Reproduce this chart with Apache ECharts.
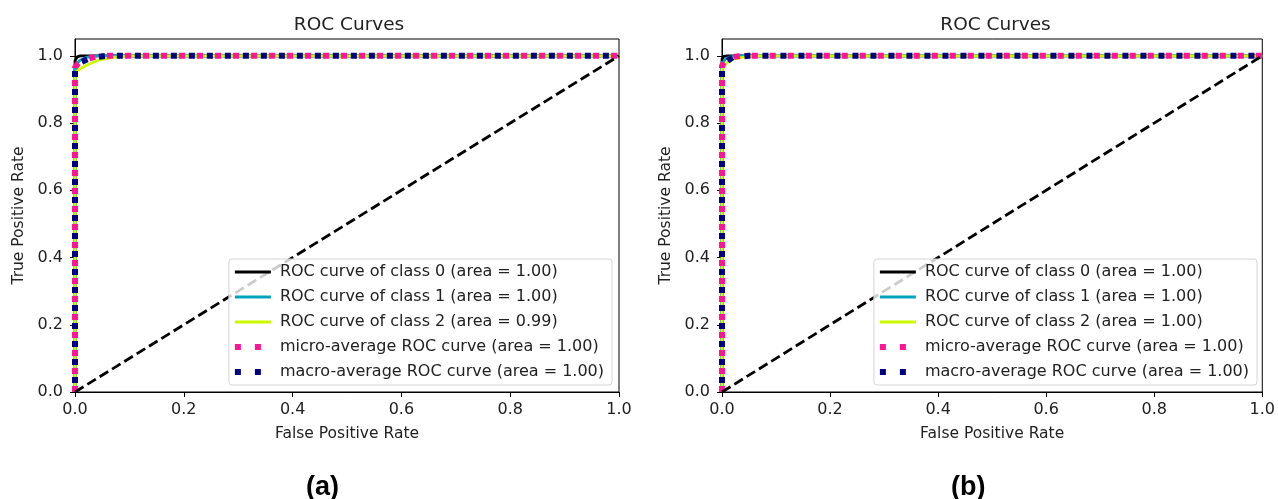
<!DOCTYPE html>
<html>
<head>
<meta charset="utf-8">
<script src="https://cdn.jsdelivr.net/npm/echarts@6/dist/echarts.min.js"></script>
<style>
  html, body { margin: 0; padding: 0; background: #fff; }
  #wrap { position: relative; width: 1278px; height: 499px; }
  .panel { position: absolute; top: 0; height: 499px; }
</style>
</head>
<body>
<div id="wrap">
  <div id="panelA" class="panel" style="left:0;width:640px"></div>
  <div id="panelB" class="panel" style="left:640px;width:638px"></div>
</div>
<script>
// legend labels
const curveNames = [
  'ROC curve of class 0',
  'ROC curve of class 1',
  'ROC curve of class 2',
  'micro-average ROC curve',
  'macro-average ROC curve'
]
const areasA = ['1.00', '1.00', '0.99', '1.00', '1.00']
const areasB = ['1.00', '1.00', '1.00', '1.00', '1.00']

// axis ticks
const xTicks = [0, 0.2, 0.4, 0.6, 0.8, 1.0]
const yTicks = [0, 0.2, 0.4, 0.6, 0.8, 1.0]

// panel (a) curves: fpr / tpr
const aClass0Fpr = [0, 0, 0.004, 0.01, 0.03, 1]
const aClass0Tpr = [0, 0.985, 0.997, 1.0, 1.0, 1.0]
const aClass1Fpr = [0, 0, 0.008, 0.02, 0.04, 1]
const aClass1Tpr = [0, 0.97, 0.985, 0.995, 1.0, 1.0]
const aClass2Fpr = [0, 0, 0.01, 0.025, 0.045, 0.07, 0.1, 1]
const aClass2Tpr = [0, 0.95, 0.962, 0.975, 0.988, 0.995, 1.0, 1.0]
const aMicroFpr = [0, 0, 0.006, 0.02, 0.045, 1]
const aMicroTpr = [0, 0.965, 0.978, 0.99, 1.0, 1.0]
const aMacroFpr = [0, 0, 0.01, 0.03, 0.06, 1]
const aMacroTpr = [0, 0.96, 0.98, 0.995, 1.0, 1.0]

// panel (b) curves: fpr / tpr
const bClass0Fpr = [0, 0, 0.003, 0.01, 1]
const bClass0Tpr = [0, 0.99, 0.998, 1.0, 1.0]
const bClass1Fpr = [0, 0, 0.006, 0.015, 0.03, 1]
const bClass1Tpr = [0, 0.975, 0.99, 0.997, 1.0, 1.0]
const bClass2Fpr = [0, 0, 0.008, 0.02, 0.04, 0.06, 1]
const bClass2Tpr = [0, 0.96, 0.978, 0.99, 0.996, 1.0, 1.0]
const bMicroFpr = [0, 0, 0.005, 0.015, 0.035, 1]
const bMicroTpr = [0, 0.97, 0.985, 0.995, 1.0, 1.0]
const bMacroFpr = [0, 0, 0.008, 0.02, 0.05, 1]
const bMacroTpr = [0, 0.96, 0.982, 0.996, 1.0, 1.0]

// chance line
const diagX = [0, 1]
const diagY = [0, 1]

const curveColors = ['#000000', '#00a4bb', '#ccf900', '#ff1493', '#000080']
const textColor = '#222'
const font = 'DejaVu Sans'

function pairs(xs, ys) {
  return xs.map((x, i) => [x, ys[i]])
}

function buildOption(cfg) {
  const names = curveNames.map((n, i) => `${n} (area = ${cfg.areas[i]})`)
  const curves = cfg.curves.map((c, i) => {
    const dotted = i >= 3
    return {
      name: names[i],
      type: 'line',
      data: pairs(c[0], c[1]),
      symbol: 'none',
      showSymbol: false,
      animation: false,
      z: 2 + i * 0.1,
      itemStyle: { color: curveColors[i] },
      lineStyle: dotted
        ? { color: curveColors[i], width: 6, type: [6, 12], dashOffset: i === 4 ? 9 : 0, cap: 'butt' }
        : { color: curveColors[i], width: 2.8 }
    }
  })
  curves.push({
    name: 'chance',
    type: 'line',
    data: pairs(diagX, diagY),
    symbol: 'none',
    animation: false,
    z: 3,
    itemStyle: { color: '#000' },
    lineStyle: { color: '#000', width: 2.8, type: [10, 4.5] }
  })

  // legend handles: solid lines for classes, two square dots for averages
  const legendData = names.map((n, i) => ({
    name: n,
    itemStyle: { opacity: 0 },
    lineStyle: i >= 3
      ? { color: curveColors[i], width: 6, type: [6, 14], dashOffset: 0, cap: 'butt' }
      : { color: curveColors[i], width: 2.8, type: 'solid' }
  }))

  const axisCommon = {
    type: 'value',
    min: 0,
    nameLocation: 'middle',
    nameTextStyle: { fontFamily: font, fontSize: 15.5, color: textColor },
    axisLine: { show: true, onZero: false, lineStyle: { color: '#000', width: 1 } },
    splitLine: { show: false }
  }

  return {
    animation: false,
    title: {
      text: 'ROC Curves',
      left: cfg.gridLeft + cfg.gridWidth / 2 - 3,
      top: 11,
      textAlign: 'center',
      textStyle: { fontFamily: font, fontSize: 18.5, fontWeight: 'normal', color: textColor }
    },
    grid: {
      left: cfg.gridLeft,
      width: cfg.gridWidth,
      top: 39,
      bottom: 107,
      show: true,
      borderColor: '#000',
      borderWidth: 1,
      backgroundColor: 'transparent'
    },
    legend: {
      orient: 'vertical',
      right: cfg.legendRight,
      bottom: 114,
      data: legendData,
      itemWidth: 36,
      itemHeight: 16,
      itemGap: 9,
      padding: [5, 8, 5, 3],
      borderColor: '#d4d4d4',
      borderWidth: 1,
      borderRadius: 3,
      backgroundColor: 'rgba(255,255,255,0.8)',
      selectedMode: false,
      itemStyle: { opacity: 0 },
      textStyle: { fontFamily: font, fontSize: 16, lineHeight: 16, color: textColor, padding: [0, 0, 0, 4] }
    },
    xAxis: {
      ...axisCommon,
      max: 1,
      name: 'False Positive Rate',
      nameGap: 34,
      interval: 0.2,
      axisTick: { show: true, length: 5, customValues: xTicks, lineStyle: { color: '#000' } },
      axisLabel: {
        customValues: xTicks,
        margin: 10,
        fontFamily: font,
        fontSize: 16,
        color: textColor,
        formatter: v => v.toFixed(1)
      }
    },
    yAxis: {
      ...axisCommon,
      max: 1.05,
      name: 'True Positive Rate',
      nameGap: 47,
      interval: 0.2,
      axisTick: { show: true, length: 5, customValues: yTicks, lineStyle: { color: '#000' } },
      axisLabel: {
        customValues: yTicks,
        margin: 12,
        fontFamily: font,
        fontSize: 16,
        color: textColor,
        formatter: v => v.toFixed(1)
      }
    },
    graphic: [{
      type: 'text',
      left: cfg.captionX,
      top: 474,
      style: {
        text: cfg.caption,
        font: 'bold 27px "Liberation Sans", Arial, sans-serif',
        fill: '#000'
      }
    }],
    series: curves
  }
}

const chartA = echarts.init(document.getElementById('panelA'), null, { renderer: 'canvas' })
chartA.setOption(buildOption({
  areas: areasA,
  curves: [
    [aClass0Fpr, aClass0Tpr],
    [aClass1Fpr, aClass1Tpr],
    [aClass2Fpr, aClass2Tpr],
    [aMicroFpr, aMicroTpr],
    [aMacroFpr, aMacroTpr]
  ],
  gridLeft: 75,
  gridWidth: 544,
  legendRight: 28,
  caption: '(a)',
  captionX: 306
}))

const chartB = echarts.init(document.getElementById('panelB'), null, { renderer: 'canvas' })
chartB.setOption(buildOption({
  areas: areasB,
  curves: [
    [bClass0Fpr, bClass0Tpr],
    [bClass1Fpr, bClass1Tpr],
    [bClass2Fpr, bClass2Tpr],
    [bMicroFpr, bMicroTpr],
    [bMacroFpr, bMacroTpr]
  ],
  gridLeft: 82,
  gridWidth: 543,
  legendRight: 21,
  caption: '(b)',
  captionX: 311
}))
</script>
</body>
</html>
